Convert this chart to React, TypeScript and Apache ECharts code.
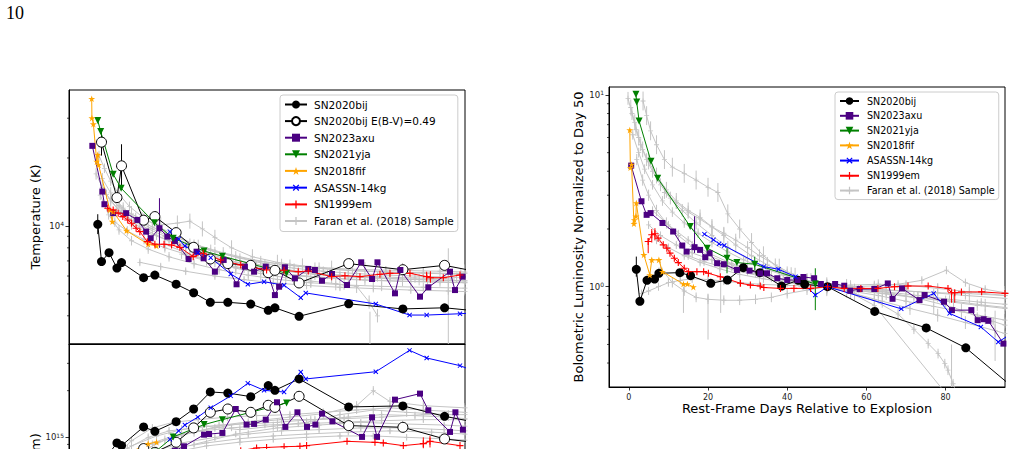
import React, { useEffect, useRef } from "react";
import * as echarts from "echarts";

// ---------------- SN2020bij ----------------
const bijTemp: number[][] = [[1.9,10170],[2.8,6950],[4.6,7610],[6.5,6510],[7.6,6880],[12.9,5900],[15.6,6060],[20.7,5520],[24.9,5060],[28.9,4590],[33.1,4590],[38.6,4510],[42.8,4230],[44.4,4340],[50.2,3980],[62.1,4520],[75.1,4290],[85.1,4340],[100,4080]];
const bijRedTemp: number[][] = [[2.8,23500],[6.5,13350],[7.6,18460],[12.9,10600],[15.6,11000],[20.7,9340],[24.9,8040],[28.9,7140],[33.1,6810],[38.6,6690],[42.8,6210],[44.4,6360],[50.2,5590],[62.1,6810],[75.1,6400],[85.1,6690],[100,5920]];
const bijRadius: number[][] = [[1.9,5.0e14],[2.8,6.5e14],[4.6,7.85e14],[6.5,9.2e14],[7.6,8.84e14],[12.9,1.167e15],[15.6,1.093e15],[20.7,1.262e15],[24.9,1.523e15],[28.9,1.962e15],[33.1,1.93e15],[38.6,1.83e15],[42.8,2.156e15],[44.4,2.01e15],[50.2,2.38e15],[62.1,1.57e15],[75.1,1.595e15],[85.1,1.366e15],[100,1.145e15]];
const bijRedRadius: number[][] = [[2.8,3.5e14],[6.5,6.0e14],[7.6,5.0e14],[12.9,8.46e14],[15.6,8.0e14],[20.7,9.29e14],[24.9,1.15e15],[28.9,1.45e15],[33.1,1.523e15],[38.6,1.45e15],[42.8,1.609e15],[44.4,1.56e15],[50.2,1.839e15],[62.1,1.19e15],[75.1,1.16e15],[85.1,9.76e14],[100,8.78e14]];
const bijLum: number[][] = [[1.9,1.233],[2.8,0.839],[4.6,1.08],[6.5,1.097],[7.6,1.175],[12.9,1.184],[15.6,1.142],[20.7,1.042],[24.9,1.084],[28.9,1.257],[33.1,1.184],[38.6,1.008],[42.8,1.08],[44.4,1.03],[50.2,1.0],[62.1,0.743],[75.1,0.61],[85.1,0.48],[100,0.265]];

// ---------------- SN2023axu ----------------
const axuTemp: number[][] = [[0.6,22630],[3.0,14200],[3.5,12480],[5.6,11390],[8.7,11390],[11.4,10630],[13.5,9435],[14.6,8820],[16.7,9770],[18.6,8970],[20.4,8580],[23.7,7140],[25.6,7690],[27.3,7190],[30,6270],[32.1,7070],[35.2,5515],[37.2,6600],[39.4,6270],[42.2,6600],[44.4,4940],[45.4,5380],[46.8,6560],[49.2,5860],[52.4,6450],[54,6380],[55.7,5720],[58.1,6125],[61.7,5475],[65.1,6900],[67.7,5820],[69,6900],[73.2,5030],[74.5,6380],[79.2,4860],[81.2,5350],[86.4,6270],[87.6,5200],[89.4,5960]];
const axuRadius: number[][] = [[0.6,2.6e14],[3.0,4.2e14],[3.5,4.8e14],[5.6,5.4e14],[8.7,5.9e14],[11.4,6.5e14],[13.5,7.2e14],[14.6,7.6e14],[16.7,7.0e14],[18.6,7.8e14],[20.4,8.2e14],[22.6,8.75e14],[27.4,1.04e15],[28.6,1.05e15],[31.8,1.067e15],[35,1.523e15],[37.6,1.208e15],[39.4,1.22e15],[42.2,1.3e15],[44.9,1.683e15],[46.9,1.167e15],[49.8,1.45e15],[52.1,1.167e15],[54.1,1.208e15],[55.7,1.422e15],[58.2,1.268e15],[65.3,1.006e15],[67.7,1.346e15],[68.9,1.006e15],[73.2,1.75e15],[79.2,1.914e15],[81.2,1.494e15],[86.4,1.083e15],[87.7,1.45e15],[89.5,1.12e15]];
const axuLum: number[][] = [[0.6,4.28],[3.2,2.79],[4.5,2.37],[5.5,2.42],[8.5,2.15],[11.2,1.94],[13.5,1.64],[14.6,1.525],[16.6,1.608],[18,1.556],[19.3,1.425],[20.4,1.496],[22.3,1.326],[24,1.31],[27.3,1.223],[30.5,1.213],[33.2,1.175],[34.9,1.175],[37.5,1.107],[40,1.084],[42.6,1.084],[44.1,1.124],[46.8,1.107],[48.5,1.033],[52.1,1.033],[54.4,1.012],[55.9,0.953],[58.3,0.973],[62,0.973],[65.4,1.04],[66.6,0.865],[69,0.98],[73.4,0.852],[74.7,0.905],[79.6,0.835],[81.6,0.755],[86.5,0.755],[88.1,0.669],[89.6,0.677],[90.8,0.664],[94.6,0.505]];

// ---------------- SN2021yja ----------------
const yjaTemp: number[][] = [[1.9,29300],[2.6,26200],[5.6,16950],[7.5,14700],[15.5,10340],[20,8820],[27.4,7745],[31.8,7340],[47.2,6170]];
const yjaRadius: number[][] = [[1.9,2.4e14],[2.6,2.9e14],[5.6,4.6e14],[7.5,5.3e14],[15.5,8.0e14],[20,1.006e15],[27.4,1.208e15],[31.8,1.3e15],[47.2,1.667e15]];
const yjaLum: number[][] = [[1.8,10.09],[2.0,9.19],[2.6,7.31],[5.6,4.51],[7.3,3.68],[15.5,2.06],[19.8,1.589],[24.8,1.408],[27.3,1.336],[31.8,1.31],[47.1,1.033]];

// ---------------- SN2018fif ----------------
const fifTemp: number[][] = [[0.45,36580],[0.5,30030],[0.85,28250],[1.65,19280],[1.9,20650],[2.1,18640],[4.8,11780],[5.4,10450],[5.6,11570],[8.8,9530],[14,8295],[16,8154]];
const fifRadius: number[][] = [[0.45,1.5e14],[0.5,1.9e14],[0.85,2.1e14],[1.65,3.6e14],[1.9,3.4e14],[2.1,3.9e14],[4.8,6.2e14],[5.4,6.8e14],[5.6,6.4e14],[8.8,7.8e14],[14,9.1e14],[16,9.3e14]];
const fifLum: number[][] = [[0.25,6.56],[0.4,4.17],[0.7,4.34],[1.3,2.13],[1.4,2.23],[1.8,2.33],[1.9,2.73],[3.8,1.466],[5.3,1.152],[5.8,1.38],[7.6,1.38],[8.5,1.198],[13.8,1.033],[14.8,1.033],[16.3,0.996]];

// ---------------- ASASSN-14kg ----------------
const kgTemp: number[][] = [[19.2,9435],[21.3,8760],[22.8,8150],[25.9,7610],[29,7230],[33.8,6125],[37.9,5515],[41.8,5660],[46.6,5460],[50.6,4810],[51.8,5050],[68.6,4510],[76.7,4030],[80.8,4030],[88.8,4084],[95,4150]];
const kgRadius: number[][] = [[19.2,9.7e14],[21.3,1.1e15],[22.8,1.2e15],[25.9,1.35e15],[29,1.55e15],[33.8,1.85e15],[37.9,2.23e15],[41.8,2.01e15],[46.6,1.96e15],[50.6,2.64e15],[51.8,2.38e15],[68.6,2.65e15],[76.7,3.64e15],[80.8,3.25e15],[88.8,2.9e15],[95,2.5e15]];
const kgLum: number[][] = [[19.1,1.88],[21.4,1.756],[22.8,1.674],[24.1,1.64],[34.1,1.273],[37.8,1.233],[42.1,1.128],[47.1,0.905],[50.2,1.0],[68.8,0.767],[77,0.923],[81,0.726],[88.9,0.617],[93.3,0.515],[95.3,0.547],[97,0.6]];

// ---------------- SN1999em ----------------
const emTemp: number[][] = [[4.3,11980],[5.6,11780],[6.8,11390],[7.9,11000],[9.1,10630],[10,10280],[11.1,9770],[12,9435],[13.8,8520],[15.6,8295],[17.8,8295],[19.6,8236],[21.6,8040],[24.8,7312],[27.2,7570],[31.4,7070],[36.2,6714],[42.4,6380],[46.6,6361],[50,6270],[52.4,6318],[58,5962],[61.2,6020],[64.8,5962],[69.6,6107],[72,6168],[76.8,6168],[80.8,5962],[81.7,5898],[84.8,5898],[88.8,6063]];
const emRadius: number[][] = [[4.3,2.5e14],[5.6,2.8e14],[6.8,3.1e14],[7.9,3.4e14],[9.1,3.7e14],[10,3.9e14],[11.1,4.2e14],[12,4.4e14],[13.8,4.9e14],[15.6,5.3e14],[17.8,5.8e14],[19.6,6.1e14],[21.6,6.5e14],[24.8,7.0e14],[27.2,7.4e14],[31.4,7.8e14],[36.2,8.2e14],[40,8.54e14],[42.4,8.6e14],[46.6,8.7e14],[50.4,8.75e14],[52,8.84e14],[61.7,9.42e14],[68.4,9.28e14],[70.4,9.2e14],[75.2,8.84e14],[80,9.1e14],[81.6,9.42e14],[88.8,8.84e14]];
const emLum: number[][] = [[4.9,1.72],[5.8,1.865],[6.6,1.888],[7.4,1.792],[8.7,1.653],[9.6,1.589],[10.4,1.496],[11.5,1.408],[12.5,1.336],[14,1.248],[15.1,1.198],[17.2,1.198],[18.9,1.198],[20.1,1.175],[23.1,1.128],[28.2,1.042],[30.7,1.02],[33.2,1.008],[34.1,0.99],[38.3,0.98],[41.7,0.98],[45.9,0.98],[50.2,1.0],[54.4,0.98],[58.6,0.98],[62.9,0.98],[67.1,1.0],[70.5,1.008],[75.6,1.008],[80.6,0.98],[81.5,0.93],[82.3,0.93],[84,0.938],[89.1,0.94],[95,0.923]];

// ---------------- error bars: [day, low, high] ----------------
const bijTempErr: number[][] = [[1.9,9200,11270]];
const bijRedTempErr: number[][] = [[2.8,20500,26700],[7.6,14800,23000]];
const axuTempErr: number[][] = [[16.7,8000,13270]];
const emTempErr: number[][] = [[80.8,5660,6270],[81.7,5600,6300]];
const emRadiusErr: number[][] = [[80,8.5e14,1.0e15],[81.6,8.6e14,1.02e15]];
const bijLumErr: number[][] = [[1.9,1.128,1.436]];
const axuLumErr: number[][] = [[16.6,1.5,2.33]];
const yjaLumErr: number[][] = [[24.8,1.175,1.59],[31.8,1.223,1.436],[47.1,0.755,1.248]];
const emLumErr: number[][] = [[4.9,1.496,1.792],[5.8,1.7,2.0],[6.6,1.75,2.02],[81.5,0.825,0.961],[82.3,0.825,0.961]];

// ---------------- Faran et al. (2018) comparison sample ----------------
const faranTemp: number[][][] = [
  [[2.2,20500],[3.5,18000],[5,15800],[7,13800],[9.5,12200],[12.5,11000],[16,10000],[20,9200],[25,8300],[30,7700],[36,7200],[42,6800],[49,6500],[56,6300],[64,6150],[72,6050],[80,5980],[88,5920]],
  [[1.5,17000],[3,14800],[5,12900],[7.5,11500],[10.5,10500],[14,9700],[18,9000],[23,8200],[28,7600],[34,7000],[40,6600],[47,6300],[54,6100],[62,5950],[70,5850],[79,5780],[90,5700]],
  [[4,13800],[6.5,12000],[9,10800],[12,9900],[16,9100],[21,8300],[26,7700],[32,7100],[38,6700],[45,6400],[52,6200],[60,6050],[69,5950],[78,5880],[87,5820]],
  [[7,12300],[10,11300],[13,10600],[17,10100],[21,10300],[24,10500],[27,9700],[30,8900],[34,8000],[39,7300],[45,6900],[51,6650],[58,6500],[66,6400],[75,6350],[84,6300],[90,6250]],
  [[2.5,13700],[4.5,11200],[7,9600],[10,8600],[14,7900],[19,7300],[25,6800],[31,6400],[38,6050],[45,5800],[53,5600],[61,5480],[70,5400],[80,5350],[90,5300]],
  [[12,6900],[17,6600],[23,6300],[30,6000],[37,5780],[44,5600],[52,5450],[60,5350],[68,5280],[77,5200],[86,5150],[90,5120]],
  [[5,13200],[8,11700],[11,10600],[15,9700],[19,9000],[24,8300],[29,7800],[35,7300],[41,6950],[48,6700],[55,6500],[63,6350],[71,6250],[80,6180],[89,6100]],
  [[10,10100],[14,9300],[19,8600],[24,8000],[30,7500],[36,7000],[43,6600],[50,6300],[57,6100],[64,5950],[72,5850],[81,5780],[90,5720]],
  [[18,8300],[23,7600],[29,7000],[35,6500],[41,6150],[47,5900],[53,5700],[59,5550],[64,5400],[67,4600],[69,4000]],
  [[6,10400],[9,9500],[13,8700],[18,8000],[24,7400],[30,6900],[37,6500],[44,6200],[52,6000],[60,5850],[68,5750],[77,5680],[86,5620],[90,5600]],
  [[3,16200],[5,14000],[8,12000],[11,10800],[15,9900],[20,9000],[26,8200],[32,7600],[39,7100],[46,6750],[54,6500],[62,6350],[71,6250],[80,6200],[90,6150]],
  [[22,7500],[28,7000],[35,6550],[42,6250],[50,6000],[58,5850],[66,5750],[75,5680],[84,5650],[90,5620]],
];
const faranTempErr = [0.05, 0.06, 0.05, 0.08, 0.05, 0.04, 0.06, 0.05, 0.07, 0.05, 0.06, 0.05];
const faranTempWideErr: number[][] = [[67.2,2500,4170],[86,2500,7960]];

const faranRadius: number[][][] = [
  [[5,7e14],[10,9.5e14],[15,1.15e15],[20,1.25e15],[26,1.3e15],[33,1.35e15],[40,1.38e15],[48,1.4e15],[56,1.45e15],[64,1.5e15],[72,1.55e15],[80,1.5e15],[90,1.45e15]],
  [[8,7.5e14],[14,9e14],[20,1.02e15],[27,1.1e15],[34,1.15e15],[42,1.2e15],[50,1.22e15],[60,1.25e15],[70,1.28e15],[80,1.3e15],[90,1.3e15]],
  [[10,7e14],[16,8.2e14],[22,9.2e14],[30,1e15],[38,1.05e15],[46,1.1e15],[55,1.12e15],[65,1.15e15],[75,1.15e15],[85,1.12e15],[90,1.1e15]],
  [[12,8e14],[18,9.6e14],[25,1.08e15],[32,1.2e15],[40,1.28e15],[48,1.35e15],[56,1.42e15],[64,1.6e15],[68,2e15],[72,1.7e15],[80,1.6e15],[90,1.55e15]],
  [[6,6e14],[12,7.5e14],[20,8.5e14],[28,9.2e14],[36,9.8e14],[44,1.02e15],[52,1.05e15],[62,1.08e15],[72,1.1e15],[82,1.08e15],[90,1.05e15]],
  [[15,9e14],[22,1.05e15],[30,1.15e15],[38,1.25e15],[46,1.3e15],[54,1.3e15],[62,1.35e15],[70,1.4e15],[78,1.38e15],[86,1.35e15],[90,1.32e15]],
  [[20,8e14],[28,8.8e14],[36,9.3e14],[44,9.7e14],[52,1e15],[60,1.02e15],[68,1.02e15],[76,1e15],[84,9.8e14],[90,9.6e14]],
  [[4,6.5e14],[9,8.5e14],[14,1e15],[19,1.1e15],[25,1.15e15],[31,1.2e15],[38,1.22e15],[45,1.25e15],[53,1.3e15],[61,1.32e15],[70,1.35e15],[80,1.4e15],[90,1.4e15]],
  [[25,9e14],[35,1.05e15],[45,1.15e15],[55,1.2e15],[65,1.25e15],[75,1.22e15],[85,1.2e15],[90,1.18e15]],
  [[10,8.8e14],[16,1.02e15],[22,1.12e15],[28,1.18e15],[36,1.12e15],[44,1.18e15],[52,1.25e15],[60,1.4e15],[68,1.5e15],[76,1.45e15],[86,1.4e15]],
];
const faranRadiusErr = [0.06, 0.05, 0.06, 0.07, 0.05, 0.06, 0.05, 0.06, 0.05, 0.07];

const faranLum: number[][][] = [
  [[-0.2,9.6],[0.8,8.0],[1.8,6.6],[3,5.5],[4.5,4.6],[6,4.0],[8,3.4],[10.5,2.9],[13.5,2.5],[17,2.15],[21,1.85],[25,1.6],[30,1.4],[35,1.25],[40,1.15],[45,1.06],[50,1.0],[57,0.96],[65,0.92],[73,0.88],[82,0.84],[90,0.8],[95,0.78]],
  [[0.5,8.6],[1.5,7.2],[2.5,6.0],[3.5,5.2],[5,4.5],[7,3.8],[9.5,3.2],[12,2.8],[15,2.5],[18,2.3],[21,2.05],[24,1.85],[27,1.65],[31,1.45],[35,1.3],[40,1.16],[45,1.07],[50,1.0],[56,0.95],[63,0.9],[70,0.84],[77,0.79],[84,0.74],[90,0.7],[95,0.67]],
  [[3.6,9.3],[4.5,7.8],[5.5,6.5],[7,5.5],[9,4.6],[11,4.2],[14,3.9],[17,3.6],[20,3.3],[22.5,3.1],[25,2.4],[28,2.0],[31,1.7],[34,1.45],[38,1.25],[42,1.12],[46,1.05],[50,1.0],[55,0.98],[62,0.96],[70,0.95],[78,0.93],[86,0.92],[95,0.9]],
  [[1,6.2],[2.5,5.0],[4,4.1],[6,3.4],[8.5,2.8],[11,2.45],[14,2.15],[17.5,1.9],[21,1.7],[25,1.52],[29,1.38],[34,1.25],[39,1.15],[44,1.07],[50,1.0],[56,0.93],[62,0.85],[68,0.72],[72,0.6],[75.6,0.505],[78.1,0.448],[79.8,0.397],[80.6,0.367],[81.9,0.312],[83,0.27]],
  [[6,2.5],[10,2.1],[15,1.75],[20,1.5],[26,1.32],[32,1.2],[38,1.1],[44,1.04],[50,1.0],[56,0.93],[62,0.8],[90,0.155]],
  [[3.2,0.92],[5,0.95],[7.5,1.0],[10,1.05],[13,1.08],[16,1.1],[20,1.09],[24,1.07],[28,1.05],[33,1.03],[38,1.02],[44,1.01],[50,1.0],[56,0.99],[63,0.97],[70,0.95],[77,0.93],[85,0.9],[95,0.87]],
  [[8,1.25],[11,1.05],[14,0.95],[17,0.88],[20,0.86],[24,0.85],[28,0.85],[32,0.86],[36,0.88],[40,0.92],[45,0.96],[50,1.0],[56,1.02],[63,1.03],[70,1.02],[78,0.98],[86,0.94],[95,0.9]],
  [[7,1.75],[10,1.6],[14,1.45],[18,1.34],[23,1.24],[28,1.16],[34,1.1],[40,1.05],[45,1.02],[50,1.0],[56,1.0],[62,1.01],[68,1.03],[74,1.08],[80.2,1.22],[85,1.05],[90,0.97],[95,0.93]],
  [[2,4.6],[3.5,3.6],[5,3.0],[7,2.5],[9.5,2.15],[12.5,1.85],[16,1.62],[20,1.46],[25,1.32],[30,1.22],[36,1.13],[43,1.06],[50,1.0],[57,0.96],[64,0.92],[72,0.88],[80,0.84],[88,0.8],[95,0.77]],
  [[9,3.1],[12,2.75],[15,2.45],[18,2.25],[21,2.05],[24,1.9],[27,1.75],[30,1.6],[33,1.45],[37,1.3],[41,1.17],[45,1.08],[50,1.0],[57,0.92],[64,0.84],[71,0.77],[78,0.71],[85,0.65],[92.5,0.59],[95,0.57]],
  [[5,2.1],[8,1.85],[12,1.65],[16,1.5],[21,1.38],[26,1.27],[32,1.17],[38,1.09],[44,1.04],[50,1.0],[57,0.97],[65,0.94],[73,0.9],[81,0.86],[89,0.83],[95,0.81]],
  [[15,1.45],[19,1.35],[23,1.28],[28,1.2],[33,1.14],[38,1.09],[44,1.04],[50,1.0],[58,0.97],[66,0.93],[74,0.86],[82,0.78],[88,0.7],[92,0.66],[95,0.63]],
];
const faranLumErr = [0.08, 0.1, 0.12, 0.06, 0.05, 0.05, 0.06, 0.05, 0.07, 0.08, 0.05, 0.05];
const faranLumWideErr: number[][] = [[13.8,0.73,1.0],[20,0.53,0.92],[23.2,0.73,1.13],[81.5,0.3,0.5],[92.5,0.41,0.75]];

// ---------------- axis ticks ----------------
const dayTicks = [0, 20, 40, 60, 80];
const tempMajor = [1e4];
const tempMinor = [4000, 5000, 6000, 7000, 8000, 9000, 20000, 30000];
const radiusMajor = [1e15];
const radiusMinor = [2e14, 3e14, 4e14, 5e14, 6e14, 7e14, 8e14, 9e14, 2e15, 3e15];
const lumMajor = [1, 10];
const lumMinor = [0.4, 0.5, 0.6, 0.7, 0.8, 0.9, 2, 3, 4, 5, 6, 7, 8, 9];

const FONT = "DejaVu Sans";
const GRAY = "#c4c4c4";
const PLUS = "path://M4.2,0H5.8V4.2H10V5.8H5.8V10H4.2V5.8H0V4.2H4.2Z";
const STAR = "path://M50,2L61.8,38.2L99.9,38.2L69.1,60.6L80.9,96.8L50,74.4L19.1,96.8L30.9,60.6L0.1,38.2L38.2,38.2Z";

type Style = { name: string; color: string; fill?: string; symbol: string; size: number; rotate?: number };
const S: Record<string, Style> = {
  bij: { name: "SN2020bij", color: "#000000", symbol: "circle", size: 9 },
  bijRed: { name: "SN2020bij E(B-V)=0.49", color: "#000000", fill: "#ffffff", symbol: "circle", size: 10 },
  axu: { name: "SN2023axu", color: "#4b0082", symbol: "rect", size: 6 },
  yja: { name: "SN2021yja", color: "#008000", symbol: "triangle", size: 7, rotate: 180 },
  fif: { name: "SN2018fif", color: "#ffa500", symbol: STAR, size: 7 },
  kg: { name: "ASASSN-14kg", color: "#0000ff", symbol: PLUS, size: 6, rotate: 45 },
  em: { name: "SN1999em", color: "#ff0000", symbol: PLUS, size: 7 },
  faran: { name: "Faran et al. (2018) Sample", color: GRAY, symbol: PLUS, size: 5 },
};

// "10" with a raised exponent, as rich text
const pow10Label = (v: number) => `{b|10}{e|${Math.round(Math.log10(v))}}`;

function lineSeries(key: string, data: number[][], axis: number, z = 3) {
  const s = S[key];
  return {
    type: "line",
    name: s.name,
    data,
    xAxisIndex: axis,
    yAxisIndex: axis,
    symbol: s.symbol,
    symbolSize: s.size,
    symbolRotate: s.rotate || 0,
    symbolKeepAspect: true,
    lineStyle: { color: s.color, width: 1 },
    itemStyle: { color: s.fill || s.color, borderColor: s.color, borderWidth: s.fill ? 1 : 0 },
    z,
    clip: true,
    silent: true,
    emphasis: { disabled: true },
  };
}

function errorSeries(data: number[][], axis: number, color: string, z = 2) {
  return {
    type: "custom",
    name: "errorbars",
    data,
    xAxisIndex: axis,
    yAxisIndex: axis,
    encode: { x: 0, y: [1, 2] },
    clip: true,
    silent: true,
    z,
    renderItem: (_p: any, api: any) => {
      const hi = api.coord([api.value(0), api.value(2)]);
      const lo = api.coord([api.value(0), api.value(1)]);
      return {
        type: "line",
        shape: { x1: hi[0], y1: hi[1], x2: lo[0], y2: lo[1] },
        style: { stroke: color, lineWidth: 1 },
      };
    },
  };
}

function minorTickSeries(values: number[], axis: number, xMin: number) {
  return {
    type: "custom",
    name: "minorticks",
    data: values.map((v) => [xMin, v]),
    xAxisIndex: axis,
    yAxisIndex: axis,
    encode: { x: 0, y: 1 },
    clip: false,
    silent: true,
    z: 6,
    renderItem: (_p: any, api: any) => {
      const p = api.coord([api.value(0), api.value(1)]);
      return {
        type: "line",
        shape: { x1: p[0] - 2, y1: p[1], x2: p[0], y2: p[1] },
        style: { stroke: "#000", lineWidth: 0.7 },
      };
    },
  };
}

function sampleErrors(curves: number[][][], errs: number[], wide: number[][]) {
  const out: number[][] = [];
  curves.forEach((c, i) => c.forEach(([d, v]) => out.push([d, v / (1 + errs[i]), v * (1 + errs[i])])));
  return out.concat(wide);
}

const tickLabel = { fontSize: 8, fontFamily: FONT, color: "#222" };
const axisName = { fontSize: 13, fontFamily: FONT, color: "#000" };
const tickLine = { color: "#000", width: 0.8 };

function logY(grid: number, min: number, max: number, major: number[], name: string, gap: number) {
  return {
    gridIndex: grid,
    type: "log",
    logBase: 10,
    min,
    max,
    name,
    nameLocation: "middle",
    nameGap: gap,
    nameRotate: 90,
    nameMoveOverlap: false,
    nameTextStyle: axisName,
    axisLine: { show: true, onZero: false, lineStyle: { color: "#000", width: 1 } },
    axisTick: { show: true, inside: false, length: 3.5, lineStyle: tickLine, customValues: major },
    axisLabel: {
      show: true,
      margin: 5,
      formatter: pow10Label,
      customValues: major,
      ...tickLabel,
      rich: {
        b: { fontSize: 8.5, fontFamily: FONT, color: "#222", lineHeight: 10 },
        e: { fontSize: 6, fontFamily: FONT, color: "#222", verticalAlign: "top", lineHeight: 10, padding: [0, 0, 4, 0] },
      },
    },
    splitLine: { show: false },
    minorTick: { show: false },
  };
}

function dayX(grid: number, max: number, labels: boolean) {
  return {
    gridIndex: grid,
    type: "value",
    min: -5,
    max,
    axisLine: { show: true, onZero: false, lineStyle: { color: "#000", width: 1 } },
    axisTick: { show: labels, length: 3.5, lineStyle: tickLine, customValues: dayTicks },
    axisLabel: { show: labels, margin: 6, customValues: dayTicks, ...tickLabel },
    splitLine: { show: false },
    name: labels ? "Rest-Frame Days Relative to Explosion" : "",
    nameLocation: "middle",
    nameGap: 15,
    nameMoveOverlap: false,
    nameTextStyle: axisName,
  };
}

function buildOption() {
  const series: any[] = [];

  // comparison sample underneath everything
  faranTemp.forEach((c) => series.push(lineSeries("faran", c, 0, 1)));
  faranRadius.forEach((c) => series.push(lineSeries("faran", c, 1, 1)));
  faranLum.forEach((c) => series.push(lineSeries("faran", c, 2, 1)));
  series.push(errorSeries(sampleErrors(faranTemp, faranTempErr, faranTempWideErr), 0, GRAY, 1));
  series.push(errorSeries(sampleErrors(faranRadius, faranRadiusErr, []), 1, GRAY, 1));
  series.push(errorSeries(sampleErrors(faranLum, faranLumErr, faranLumWideErr), 2, GRAY, 1));

  // temperature panel
  series.push(lineSeries("bij", bijTemp, 0));
  series.push(lineSeries("bijRed", bijRedTemp, 0));
  series.push(lineSeries("axu", axuTemp, 0));
  series.push(lineSeries("yja", yjaTemp, 0));
  series.push(lineSeries("fif", fifTemp, 0));
  series.push(lineSeries("kg", kgTemp, 0));
  series.push(lineSeries("em", emTemp, 0));
  series.push(errorSeries(bijTempErr, 0, "#000"));
  series.push(errorSeries(bijRedTempErr, 0, "#000"));
  series.push(errorSeries(axuTempErr, 0, S.axu.color));
  series.push(errorSeries(emTempErr, 0, S.em.color));

  // radius panel
  series.push(lineSeries("bij", bijRadius, 1));
  series.push(lineSeries("bijRed", bijRedRadius, 1));
  series.push(lineSeries("axu", axuRadius, 1));
  series.push(lineSeries("yja", yjaRadius, 1));
  series.push(lineSeries("fif", fifRadius, 1));
  series.push(lineSeries("kg", kgRadius, 1));
  series.push(lineSeries("em", emRadius, 1));
  series.push(errorSeries(emRadiusErr, 1, S.em.color));

  // bolometric luminosity panel
  series.push(lineSeries("bij", bijLum, 2));
  series.push(lineSeries("axu", axuLum, 2));
  series.push(lineSeries("yja", yjaLum, 2));
  series.push(lineSeries("fif", fifLum, 2));
  series.push(lineSeries("kg", kgLum, 2));
  series.push(lineSeries("em", emLum, 2));
  series.push(errorSeries(bijLumErr, 2, "#000"));
  series.push(errorSeries(axuLumErr, 2, S.axu.color));
  series.push(errorSeries(yjaLumErr, 2, S.yja.color));
  series.push(errorSeries(emLumErr, 2, S.em.color));

  series.push(minorTickSeries(tempMinor, 0, -5));
  series.push(minorTickSeries(radiusMinor, 1, -5));
  series.push(minorTickSeries(lumMinor, 2, -5));

  const legendBase = {
    orient: "vertical",
    selectedMode: false,
    backgroundColor: "rgba(255,255,255,0.85)",
    borderColor: "#cccccc",
    borderWidth: 1,
    borderRadius: 3,
    align: "left",
  };

  return {
    animation: false,
    textStyle: { fontFamily: FONT },
    graphic: [
      { type: "text", left: 6, top: 4, style: { text: "10", font: '18px "Liberation Serif"', fill: "#000" } },
    ],
    grid: [
      { left: 69, top: 90, width: 396, height: 254, show: true, borderColor: "#000", borderWidth: 1, backgroundColor: "transparent", containLabel: false, outerBoundsMode: "none" },
      { left: 69, top: 344, width: 396, height: 256, show: true, borderColor: "#000", borderWidth: 1, backgroundColor: "transparent", containLabel: false, outerBoundsMode: "none" },
      { left: 609, top: 87, width: 396, height: 300, show: true, borderColor: "#000", borderWidth: 1, backgroundColor: "transparent", containLabel: false, outerBoundsMode: "none" },
    ],
    xAxis: [dayX(0, 90, false), dayX(1, 90, false), dayX(2, 95, true)],
    yAxis: [
      logY(0, 3000, 40000, tempMajor, "Temperature (K)", 27),
      logY(1, 8.92e13, 4e15, radiusMajor, "Radius (cm)", 27),
      logY(2, 0.3, 11, lumMajor, "Bolometric Luminosity Normalized to Day 50", 24),
    ],
    legend: [
      {
        ...legendBase,
        left: 280,
        top: 95,
        padding: [4, 4, 5, 4],
        itemWidth: 22,
        itemHeight: 10,
        itemGap: 5.6,
        textStyle: { fontSize: 10.5, fontFamily: FONT, color: "#000", padding: [0, 0, 0, 2] },
        data: [S.bij.name, S.bijRed.name, S.axu.name, S.yja.name, S.fif.name, S.kg.name, S.em.name, S.faran.name],
      },
      {
        ...legendBase,
        left: 835,
        top: 92,
        padding: [4, 4, 4, 4],
        itemWidth: 19,
        itemHeight: 9.5,
        itemGap: 4.8,
        textStyle: { fontSize: 9.6, fontFamily: FONT, color: "#000", padding: [0, 0, 0, 3] },
        data: [S.bij.name, S.axu.name, S.yja.name, S.fif.name, S.kg.name, S.em.name, S.faran.name],
      },
    ],
    series,
  };
}

export default function App() {
  const ref = useRef<HTMLDivElement>(null);
  useEffect(() => {
    if (!ref.current) return;
    const chart = echarts.init(ref.current, undefined, { renderer: "svg" });
    chart.setOption(buildOption() as any);
    return () => chart.dispose();
  }, []);
  return (
    <div style={{ position: "fixed", left: 0, top: 0, width: 1012, height: 449, overflow: "hidden", background: "#fff" }}>
      <div ref={ref} style={{ width: 1012, height: 660 }} />
    </div>
  );
}
